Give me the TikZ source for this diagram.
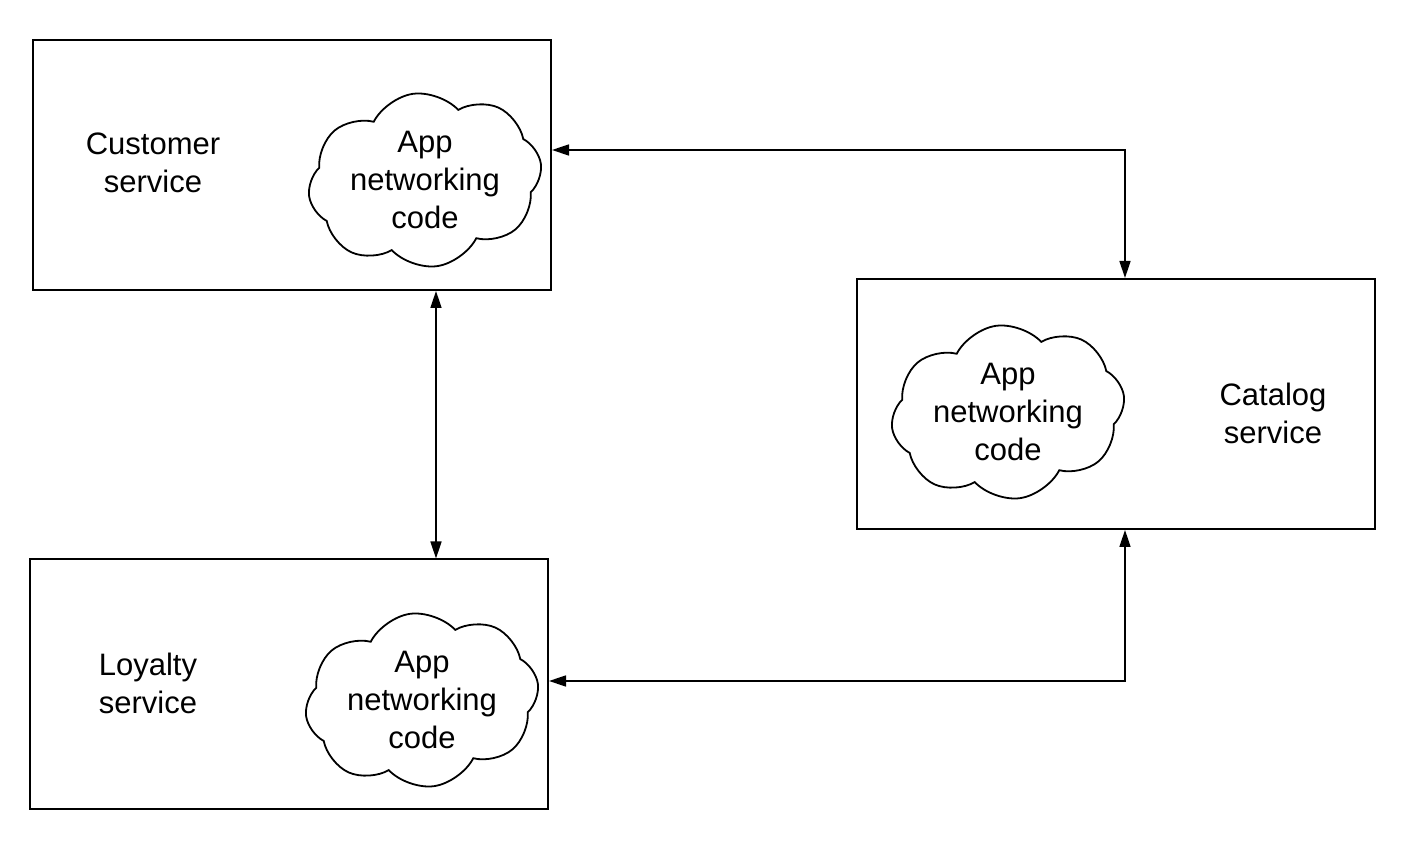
\documentclass[tikz,border=0pt]{standalone}
\usepackage{fontspec}
\setmainfont{Liberation Sans}
\usetikzlibrary{arrows.meta, shapes.symbols}

\begin{document}
\begin{tikzpicture}[x=0.5pt, y=0.5pt,
	svcbox/.style={draw, line width=1pt, minimum width=259pt, minimum height=125pt, inner sep=0pt},
	cloudy/.style={draw, cloud, cloud puffs=8, cloud puff arc=110, cloud ignores aspect, line width=0.9pt, minimum width=117pt, minimum height=87pt, inner sep=0pt},
	lbl/.style={align=center, font=\fontsize{15.5}{19}\selectfont},
	arr/.style={{Triangle[length=8.5pt,width=5.5pt]}-{Triangle[length=8.5pt,width=5.5pt]}, line width=0.8pt}]
	\useasboundingbox (0,0) rectangle (1410,846);
%	boxes
	\node[svcbox] (cust) at (292,681) {};
	\node[svcbox] (cat) at (1116,442) {};
	\node[svcbox] (loy) at (289,161.5) {};
	\node[lbl] (custtxt) at (153,683) {Customer\\service};
	\node[lbl] (cattxt) at (1273,433) {Catalog\\service};
	\node[lbl] (loytxt) at (148,163) {Loyalty\\service};
%	clouds
	\node[cloudy, rotate=8] (custcl) at (425,666) {};
	\node[cloudy, rotate=8] (catcl) at (1008,434) {};
	\node[cloudy, rotate=8] (loycl) at (422,146) {};
	\node[lbl] (custcode) at (custcl) {App\\networking\\code};
	\node[lbl] (catcode) at (catcl) {App\\networking\\code};
	\node[lbl] (loycode) at (loycl) {App\\networking\\code};
%	links
	\coordinate (cc) at (1125,696);
	\coordinate (cl) at (436,0);
	\coordinate (lc) at (1125,165);
	\draw[arr] (cust.east |- cc) -| (cat.north -| cc);
	\draw[arr] (cust.south -| cl) -- (loy.north -| cl);
	\draw[arr] (loy.east |- lc) -| (cat.south -| lc);
\end{tikzpicture}
\end{document}
